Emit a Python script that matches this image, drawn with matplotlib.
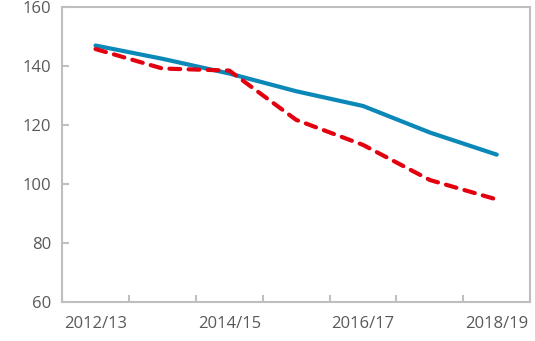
import matplotlib.pyplot as plt
import numpy as np

# financial years and the two series
years = ["2012/13", "2013/14", "2014/15", "2015/16", "2016/17", "2017/18", "2018/19"]
series_solid = [147.0, 142.5, 137.5, 131.5, 126.5, 117.5, 110.0]
series_dashed = [145.8, 139.2, 138.5, 121.8, 113.3, 101.4, 94.8]

grey = "#BFBFBF"
text_grey = "#595959"

fig = plt.figure(figsize=(5.35, 3.41), dpi=100)
ax = fig.add_axes([0.116, 0.114, 0.875, 0.865])

x = np.arange(len(years))
ax.plot(x, series_solid, color="#0A88B8", lw=3, solid_capstyle="round", solid_joinstyle="round")
ax.plot(x, series_dashed, color="#E3000F", lw=3, dashes=(2.6, 2.0),
        dash_capstyle="round", dash_joinstyle="round")

ax.set_xlim(-0.5, len(years) - 0.5)
ax.set_ylim(60, 160)
ax.set_yticks(np.arange(60, 161, 20))

# category labels every other year, tick marks between categories
ax.set_xticks(x[::2])
ax.set_xticklabels(years[::2])
ax.set_xticks(np.arange(-0.5, len(years), 1), minor=True)
ax.tick_params(axis="x", which="major", length=0, pad=10)
ax.tick_params(axis="x", which="minor", direction="in", length=5, width=1.5, color=grey)
ax.tick_params(axis="y", direction="in", length=5, width=1.5, color=grey, pad=8)
ax.tick_params(labelsize=12, labelcolor=text_grey)

for s in ax.spines.values():
    s.set_color(grey)
    s.set_linewidth(1.5)

for lbl in ax.get_xticklabels() + ax.get_yticklabels():
    lbl.set_fontfamily(["Open Sans", "DejaVu Sans"])

fig.savefig("out.png", dpi=100)
